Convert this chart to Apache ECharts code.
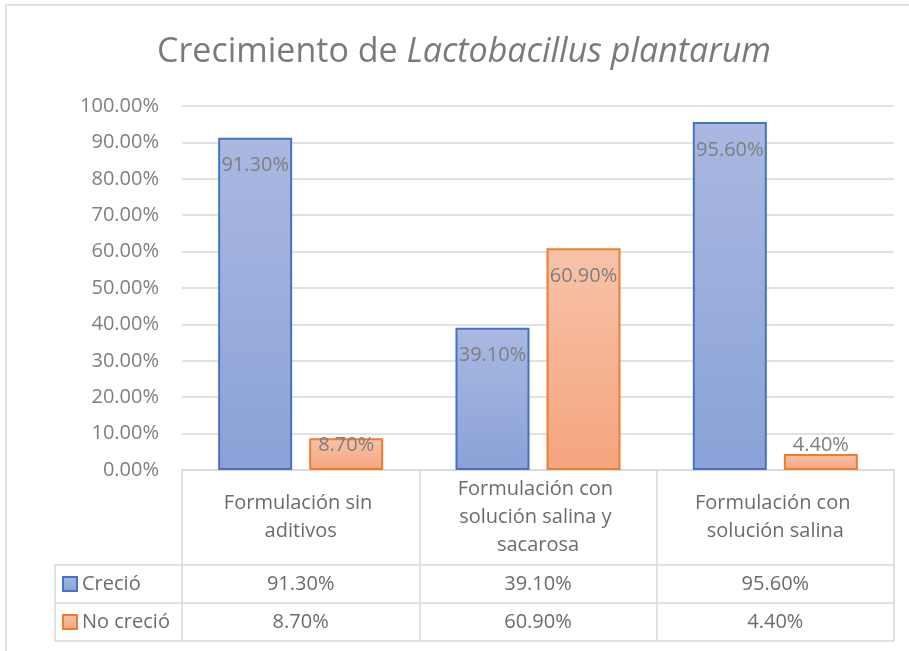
<!DOCTYPE html>
<html>
<head>
<meta charset="utf-8">
<script src="https://cdn.jsdelivr.net/npm/echarts@6/dist/echarts.min.js"></script>
<style>
  html, body { margin: 0; padding: 0; background: #fff; }
  #main { width: 909px; height: 651px; }
</style>
</head>
<body>
<div id="main"></div>
<script>
const categories = ['Formulación sin aditivos', 'Formulación con solución salina y sacarosa', 'Formulación con solución salina'];
const seriesNames = ['Creció', 'No creció'];
const crecio = [91.3, 39.1, 95.6];
const noCrecio = [8.7, 60.9, 4.4];
const yMin = 0, yMax = 100, yStep = 10;

const font = 'Open Sans';
const textGray = '#6b6b6b';
const lineGray = '#d9d9d9';

const pct = v => v.toFixed(2) + '%';

// Excel keeps the "inside end" label from dropping below a fixed line for short bars
const labelLift = v => Math.min(0, v * 3.64 - 53);

function barData(values) {
  return values.map(v => ({
    value: v,
    label: { offset: [0, labelLift(v)] }
  }));
}

function grad(top, bottom) {
  return new echarts.graphic.LinearGradient(0, 0, 0, 1, [
    { offset: 0, color: top },
    { offset: 1, color: bottom }
  ]);
}

const chart = echarts.init(document.getElementById('main'), null, { renderer: 'canvas' });

const barLabel = {
  show: true,
  position: 'insideTop',
  distance: 18,
  formatter: p => pct(p.value),
  fontFamily: font,
  fontSize: 20,
  color: '#7f7f7f'
};

const option = {
  animation: false,
  backgroundColor: '#fff',
  textStyle: { fontFamily: font },
  title: {
    text: '{n|Crecimiento de }{i|Lactobacillus plantarum}',
    left: 152,
    top: 30,
    textStyle: {
      rich: {
        n: { fontFamily: font, fontSize: 34, fontWeight: 'normal', color: '#7a7a7a' },
        i: { fontFamily: font, fontSize: 34, fontWeight: 'normal', fontStyle: 'italic', color: '#7a7a7a' }
      }
    }
  },
  legend: {
    data: seriesNames,
    orient: 'vertical',
    left: 62,
    top: 574,
    padding: 0,
    itemWidth: 14,
    itemHeight: 14,
    itemGap: 18,
    icon: 'rect',
    textStyle: { fontFamily: font, fontSize: 20, color: textGray }
  },
  grid: { left: 182, right: 15, top: 106, bottom: 181, containLabel: false },
  xAxis: [
    {
      type: 'category',
      data: categories,
      position: 'bottom',
      axisLine: { show: true, lineStyle: { color: lineGray, width: 1.5 } },
      axisTick: { show: true, length: 171, interval: 0, lineStyle: { color: lineGray, width: 1.5 } },
      axisLabel: {
        interval: 0,
        margin: 47,
        verticalAlign: 'middle',
        width: 210,
        overflow: 'break',
        lineHeight: 28,
        fontFamily: font,
        fontSize: 20,
        color: textGray
      }
    },
    {
      type: 'category',
      data: crecio.map(pct),
      position: 'bottom',
      offset: 114,
      axisLine: { show: false },
      axisTick: { show: false },
      axisLabel: { interval: 0, margin: 0, verticalAlign: 'middle', fontFamily: font, fontSize: 20, color: textGray }
    },
    {
      type: 'category',
      data: noCrecio.map(pct),
      position: 'bottom',
      offset: 152,
      axisLine: { show: false },
      axisTick: { show: false },
      axisLabel: { interval: 0, margin: 0, verticalAlign: 'middle', fontFamily: font, fontSize: 20, color: textGray }
    }
  ],
  yAxis: {
    type: 'value',
    min: yMin,
    max: yMax,
    interval: yStep,
    axisLine: { show: false },
    axisTick: { show: false },
    splitLine: { lineStyle: { color: lineGray, width: 1.5 } },
    axisLabel: {
      margin: 23,
      formatter: v => pct(v),
      fontFamily: font,
      fontSize: 20,
      color: '#7f7f7f'
    }
  },
  series: [
    {
      name: seriesNames[0],
      type: 'bar',
      barWidth: 74,
      barGap: '23%',
      data: barData(crecio),
      itemStyle: { color: grad('#aab8e1', '#8aa2d8'), borderColor: '#4472c4', borderWidth: 2 },
      label: barLabel
    },
    {
      name: seriesNames[1],
      type: 'bar',
      barWidth: 74,
      barGap: '23%',
      data: barData(noCrecio),
      itemStyle: { color: grad('#f8c3aa', '#f4a47d'), borderColor: '#ed7d31', borderWidth: 2 },
      label: barLabel
    }
  ],
  graphic: [
    // chart frame
    { type: 'rect', shape: { x: 6, y: 5, width: 960, height: 700 }, style: { fill: 'none', stroke: lineGray, lineWidth: 1.5 }, silent: true },
    // data table rows that reach under the legend column
    { type: 'line', shape: { x1: 55, y1: 565, x2: 894, y2: 565 }, style: { stroke: lineGray, lineWidth: 1.5 }, silent: true },
    { type: 'line', shape: { x1: 55, y1: 603, x2: 894, y2: 603 }, style: { stroke: lineGray, lineWidth: 1.5 }, silent: true },
    { type: 'line', shape: { x1: 55, y1: 641, x2: 894, y2: 641 }, style: { stroke: lineGray, lineWidth: 1.5 }, silent: true },
    { type: 'line', shape: { x1: 55, y1: 565, x2: 55, y2: 641 }, style: { stroke: lineGray, lineWidth: 1.5 }, silent: true }
  ]
};

chart.setOption(option);
</script>
</body>
</html>
